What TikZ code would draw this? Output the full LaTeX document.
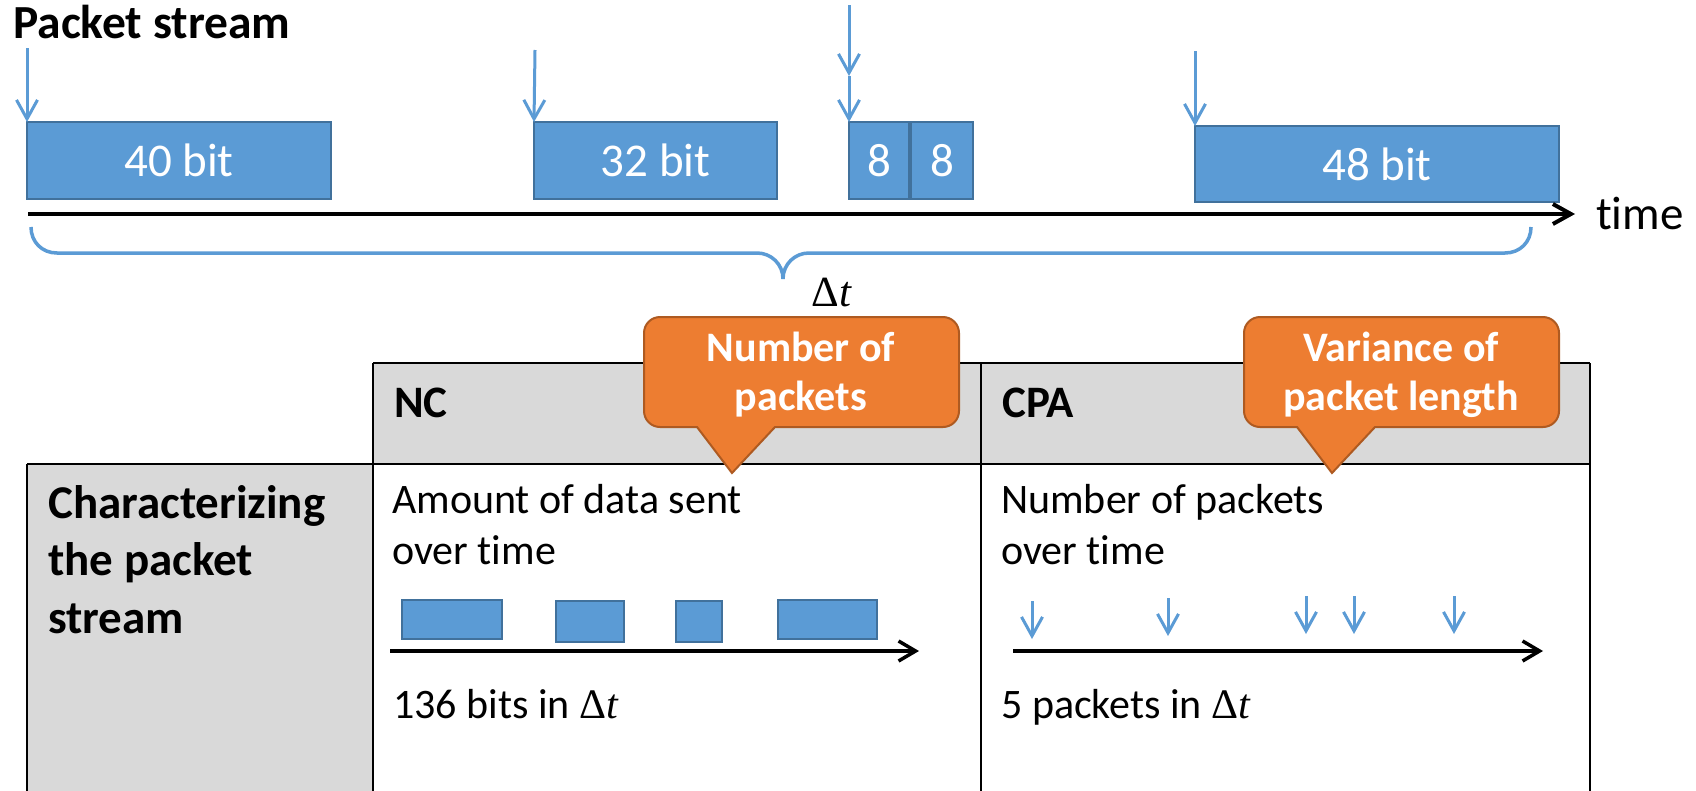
\documentclass[tikz,border=0pt]{standalone}
\usepackage{fontspec}
\setmainfont{Carlito}[Ligatures=NoCommon]
\newfontfamily\deltafont{Liberation Serif}
\usetikzlibrary{arrows.meta}
\definecolor{pktblue}{HTML}{5B9BD5}
\definecolor{pktedge}{HTML}{41719C}
\definecolor{notefill}{HTML}{ED7D31}
\definecolor{noteedge}{HTML}{AE5A21}
\definecolor{cellgray}{HTML}{D9D9D9}
\newcommand{\deltat}{{\deltafont Δ\textit{t}}}
\begin{document}
\begin{tikzpicture}[x=1pt,y=-1pt,
  pkt/.style={draw=pktedge, line width=2pt, fill=pktblue, anchor=north west,
    inner sep=0pt, outer sep=0pt, text=white, font=\fontsize{47}{56}\selectfont},
  minipkt/.style={draw=pktedge, line width=2pt, fill=pktblue, anchor=north west,
    inner sep=0pt, outer sep=0pt},
  arr/.style={draw=pktblue, line width=3pt, -{Straight Barb[length=19pt,width=21pt]}},
  timeaxis/.style={draw=black, line width=4pt, -{Straight Barb[length=18pt,width=20pt]}},
  cellaxis/.style={draw=black, line width=3.5pt, -{Straight Barb[length=17pt,width=20pt]}},
  grid/.style={draw=black, line width=2.5pt},
  note/.style={draw=noteedge, line width=2pt, fill=notefill},
  notetext/.style={anchor=base, align=center, inner sep=0pt, text=white,
    font=\bfseries\fontsize{42}{49}\selectfont},
  label/.style={anchor=base west, inner sep=0pt},
  bodytext/.style={label, align=left, font=\fontsize{42}{51}\selectfont},
  headtext/.style={label, font=\bfseries\fontsize{45}{54}\selectfont},
]
\useasboundingbox (0,0) rectangle (1696,790);
\fill[white] (0,0) rectangle (1696,790);

% ---------- packet stream ----------
\node[label, font=\bfseries\fontsize{47.5}{56}\selectfont] (title) at (13,38) {Packet stream};

\node[pkt, minimum width=304pt, minimum height=77pt] (p40) at (27,122) {40 bit};
\node[pkt, minimum width=243pt, minimum height=77pt] (p32) at (534,122) {32 bit};
\node[pkt, minimum width=60pt, minimum height=77pt] (p8a) at (849,122) {8};
\node[pkt, minimum width=62pt, minimum height=77pt] (p8b) at (911,122) {8};
\node[pkt, minimum width=364pt, minimum height=76pt] (p48) at (1195,126) {48 bit};

\coordinate (s40) at (27,48);
\coordinate (s32) at (535,50);
\coordinate (s8top) at (849,5);
\coordinate (s8mid) at (849,76);
\coordinate (s48) at (1195,51);
\draw[arr] (s40) -- (p40.north west);
\draw[arr] (s32) -- (p32.north west);
\draw[arr] (s8top) -- (s8mid);
\draw[arr] (s8mid) -- (p8a.north west);
\draw[arr] (s48) -- (p48.north west);

\coordinate (t0) at (28,214);
\coordinate (t1) at (1575,214);
\draw[timeaxis] (t0) -- (t1);
\node[label, font=\fontsize{47}{56}\selectfont] (timelabel) at (1596,229) {time};

% interval brace
\draw[pktblue, line width=3.5pt]
  (31,227) .. controls (31,242) and (42,253) .. (57,253) -- (757,253)
  .. controls (771,253) and (783,264) .. (783,279)
  .. controls (783,264) and (795,253) .. (809,253) -- (1505,253)
  .. controls (1520,253) and (1531,242) .. (1531,227);
\node[anchor=base, inner sep=0pt, font=\fontsize{43}{50}\selectfont] (dt) at (832,306) {\deltat};

% ---------- comparison table ----------
\fill[cellgray] (373,363) rectangle (1590,464);
\fill[cellgray] (27,464) rectangle (373,792);
\draw[grid] (373,363) -- (1590,363);
\draw[grid] (27,464) -- (1590,464);
\draw[grid] (27,464) -- (27,792);
\draw[grid] (373,363) -- (373,792);
\draw[grid] (981,363) -- (981,792);
\draw[grid] (1590,363) -- (1590,792);

\node[headtext] (nc) at (394,417) {NC};
\node[headtext] (cpa) at (1002,417) {CPA};
% multi-line nodes: the base anchor sits on the last line
\node[label, align=left, font=\bfseries\fontsize{47}{57.5}\selectfont] (rowhead) at (48,633)
  {Characterizing\\the packet\\stream};

% NC cell
\node[bodytext] (nctext) at (392,564) {Amount of data sent\\over time};
\node[minipkt, minimum width=100pt, minimum height=39pt] (m1) at (402,600) {};
\node[minipkt, minimum width=68pt, minimum height=41pt] (m2) at (556,601) {};
\node[minipkt, minimum width=46pt, minimum height=41pt] (m3) at (676,601) {};
\node[minipkt, minimum width=99pt, minimum height=39pt] (m4) at (778,600) {};
\coordinate (nca) at (390,651);
\coordinate (ncb) at (919,651);
\draw[cellaxis] (nca) -- (ncb);
\node[bodytext] (ncsum) at (393,718) {136 bits in \deltat};

% CPA cell
\node[bodytext] (cpatext) at (1001,564) {Number of packets\\over time};
\foreach \px/\py in {1032/601, 1168/598, 1306/596, 1354/596, 1454/596} {
  \coordinate (ca\px) at (\px,\py);
  \coordinate (cb\px) at (\px,\py+38);
  \draw[arr] (ca\px) -- (cb\px);
}
\coordinate (cpaa) at (1013,651);
\coordinate (cpab) at (1543,651);
\draw[cellaxis] (cpaa) -- (cpab);
\node[bodytext] (cpasum) at (1001,718) {5 packets in \deltat};

% ---------- callouts ----------
\draw[note] (697,427) -- (732,473) -- (775,427) [rounded corners=16pt]
  -- (959,427) -- (959,317) -- (644,317) -- (644,427) [sharp corners] -- cycle;
\node[notetext] (ncnote) at (801,410) {Number of\\packets};

\draw[note] (1297,427) -- (1332,473) -- (1375,427) [rounded corners=16pt]
  -- (1559,427) -- (1559,317) -- (1244,317) -- (1244,427) [sharp corners] -- cycle;
\node[notetext] (cpanote) at (1401,410) {Variance of\\packet length};
\end{tikzpicture}
\end{document}
